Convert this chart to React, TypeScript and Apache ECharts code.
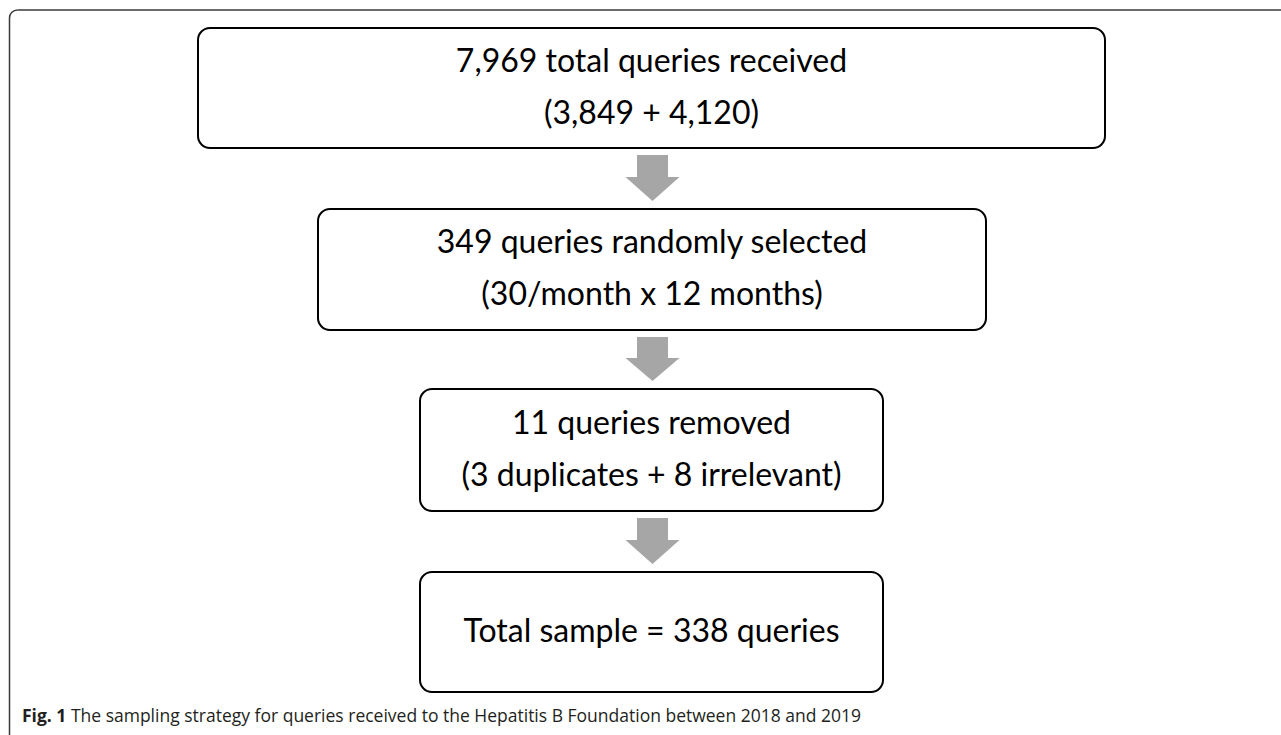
import React, { useEffect, useRef } from "react";
import * as echarts from "echarts";

const boxLines: string[][] = [
  ["7,969 total queries received", "(3,849 + 4,120)"],
  ["349 queries randomly selected", "(30/month x 12 months)"],
  ["11 queries removed", "(3 duplicates + 8 irrelevant)"],
  ["Total sample = 338 queries"],
];
const boxRects: number[][] = [
  [198, 28, 907, 120],
  [318, 209, 668, 121],
  [420, 389, 463, 122],
  [420, 572, 463, 120],
];
const captionBold = "Fig. 1";
const captionText = " The sampling strategy for queries received to the Hepatitis B Foundation between 2018 and 2019";

export default function App() {
  const ref = useRef<HTMLDivElement>(null);
  useEffect(() => {
    document.body.style.margin = "0";
    const chart = echarts.init(ref.current!, null, { renderer: "svg" });
    const elements: any[] = [];
    elements.push({
      type: "polyline",
      shape: { points: [[9.5, 740], [9.5, 18]] },
      style: { stroke: "#3a3a3a", lineWidth: 1.5, fill: null },
    });
    elements.push({
      type: "arc",
      shape: { cx: 17.5, cy: 18, r: 8, startAngle: Math.PI, endAngle: Math.PI * 1.5 },
      style: { stroke: "#3a3a3a", lineWidth: 1.5, fill: null },
    });
    elements.push({
      type: "polyline",
      shape: { points: [[17.5, 10], [1290, 10]] },
      style: { stroke: "#3a3a3a", lineWidth: 1.5, fill: null },
    });
    boxRects.forEach((b, i) => {
      const [x, y, w, h] = b;
      elements.push({
        type: "rect",
        shape: { x, y, width: w, height: h, r: 12 },
        style: { fill: "#fff", stroke: "#000", lineWidth: 2 },
      });
      const lines = boxLines[i];
      const cx = x + w / 2;
      const cy = y + h / 2;
      const gap = 52;
      lines.forEach((t, j) => {
        const off = (j - (lines.length - 1) / 2) * gap;
        elements.push({
          type: "text",
          x: cx,
          y: cy + off - 3,
          style: {
            text: t,
            fontFamily: "Lato",
            fontSize: 32,
            fill: "#000",
            align: "center",
            verticalAlign: "middle",
          },
        });
      });
      if (i < boxRects.length - 1) {
        const top = y + h + 7;
        const next = boxRects[i + 1][1];
        const bottom = next - 8;
        const mid = top + (bottom - top) * 0.48;
        const ax = 652.5;
        elements.push({
          type: "polygon",
          shape: {
            points: [
              [ax - 15.5, top], [ax + 15.5, top], [ax + 15.5, mid], [ax + 27, mid],
              [ax, bottom], [ax - 27, mid], [ax - 15.5, mid],
            ],
          },
          style: { fill: "#a6a6a6" },
        });
      }
    });
    elements.push({
      type: "text",
      x: 22,
      y: 715,
      style: {
        text: "{b|" + captionBold + "}{n|" + captionText + "}",
        verticalAlign: "middle",
        rich: {
          b: { fontFamily: "Open Sans", fontWeight: "bold", fontSize: 17.5, fill: "#231f20" },
          n: { fontFamily: "Open Sans", fontSize: 17.5, fill: "#231f20" },
        },
      },
    });
    chart.setOption({ animation: false, graphic: { elements } });
    return () => chart.dispose();
  }, []);
  return <div ref={ref} style={{ width: 1281, height: 735 }} />;
}
